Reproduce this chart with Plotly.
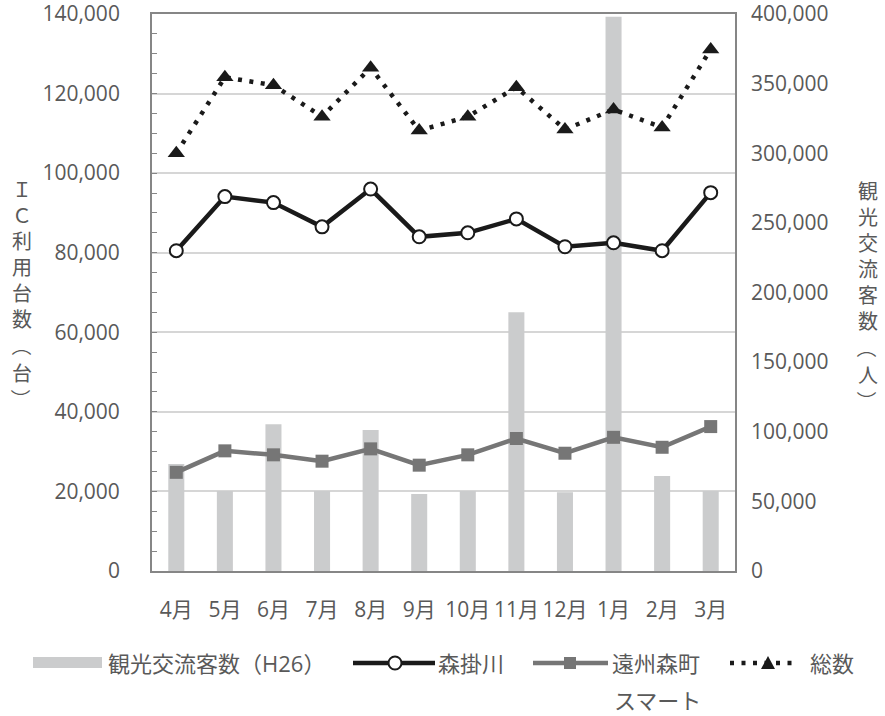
import plotly.graph_objects as go

# Monthly figures (fiscal year order, April to March)
months = ["4月", "5月", "6月", "7月", "8月", "9月", "10月", "11月", "12月", "1月", "2月", "3月"]
visitors_h26 = [76800, 57500, 105300, 57500, 101300, 55300, 57500, 185800, 56500, 398000, 68200, 57500]
kakegawa = [80500, 94100, 92600, 86500, 96000, 84000, 85000, 88500, 81500, 82500, 80500, 95100]
enshu_morimachi = [24800, 30200, 29200, 27600, 30700, 26600, 29200, 33300, 29600, 33600, 31100, 36300]
total = [105000, 124100, 122100, 114200, 126500, 110700, 114200, 121600, 111000, 116000, 111500, 131100]

left_ticks = [0, 20000, 40000, 60000, 80000, 100000, 120000, 140000]
right_ticks = [0, 50000, 100000, 150000, 200000, 250000, 300000, 350000, 400000]

# Vertical axis titles: main words stacked, unit in brackets turned for vertical writing
left_title = ["Ｉ", "Ｃ", "利", "用", "台", "数"]
left_unit = "台"
right_title = ["観", "光", "交", "流", "客", "数"]
right_unit = "人"

FONT = "Open Sans, Noto Sans CJK JP, sans-serif"
TEXT = "#595959"
AXIS = "#868686"
GRID = "#d6d6d6"
BAR = "#cbcccd"
DARK = "#1a1a1a"
MID = "#767676"

W, H = 885, 716
ML, MR, MT, MB = 152, 150, 14, 145
PW, PH = W - ML - MR, H - MT - MB


def px(x):
    return (x - ML) / PW


def py(y):
    return (H - MB - y) / PH


fig = go.Figure()

fig.add_trace(go.Bar(
    x=months, y=visitors_h26, name="観光交流客数（H26）",
    marker=dict(color=BAR, line=dict(width=0)), width=0.33, yaxis="y",
))
fig.add_trace(go.Scatter(
    x=months, y=kakegawa, name="森掛川", yaxis="y2", mode="lines+markers",
    line=dict(color=DARK, width=4.5),
    marker=dict(symbol="circle", size=13, color="white", line=dict(color=DARK, width=2)),
))
fig.add_trace(go.Scatter(
    x=months, y=enshu_morimachi, name="遠州森町スマート", yaxis="y2", mode="lines+markers",
    line=dict(color=MID, width=4.5),
    marker=dict(symbol="square", size=13, color=MID),
))
fig.add_trace(go.Scatter(
    x=months, y=total, name="総数", yaxis="y2", mode="lines+markers",
    line=dict(color=DARK, width=4.5, dash="4px,7.5px"),
    marker=dict(symbol="triangle-up", size=15, color=DARK),
))

# Legend drawn below the plot
shapes = []
annotations = []
ly = 663
lf = dict(family=FONT, size=22, color=TEXT)

shapes.append(dict(type="rect", xref="paper", yref="paper",
                   x0=px(33), x1=px(102), y0=py(668), y1=py(657),
                   fillcolor=BAR, line=dict(width=0)))
annotations.append(dict(x=px(106), y=py(ly), xref="paper", yref="paper", text="観光交流客数（H26）",
                        showarrow=False, xanchor="left", yanchor="middle", font=lf))

shapes.append(dict(type="line", xref="paper", yref="paper", x0=px(353), x1=px(435), y0=py(ly), y1=py(ly),
                   line=dict(color=DARK, width=4.5)))
shapes.append(dict(type="circle", xref="paper", yref="paper", x0=px(388.5), x1=px(401.5),
                   y0=py(ly + 6.5), y1=py(ly - 6.5), fillcolor="white", line=dict(color=DARK, width=2)))
annotations.append(dict(x=px(436), y=py(ly), xref="paper", yref="paper", text="森掛川",
                        showarrow=False, xanchor="left", yanchor="middle", font=lf))

shapes.append(dict(type="line", xref="paper", yref="paper", x0=px(533), x1=px(608), y0=py(ly), y1=py(ly),
                   line=dict(color=MID, width=4.5)))
shapes.append(dict(type="rect", xref="paper", yref="paper", x0=px(564), x1=px(576),
                   y0=py(ly + 6), y1=py(ly - 6), fillcolor=MID, line=dict(width=0)))
annotations.append(dict(x=px(610), y=py(ly), xref="paper", yref="paper", text="遠州森町",
                        showarrow=False, xanchor="left", yanchor="middle", font=lf))
annotations.append(dict(x=px(612), y=py(700), xref="paper", yref="paper", text="スマート",
                        showarrow=False, xanchor="left", yanchor="middle", font=lf))

shapes.append(dict(type="line", xref="paper", yref="paper", x0=px(730), x1=px(799), y0=py(ly), y1=py(ly),
                   line=dict(color=DARK, width=4.5, dash="4px,7.5px")))
tri = "M {:.5f},{:.5f} L {:.5f},{:.5f} L {:.5f},{:.5f} Z".format(
    px(768), py(ly - 7), px(761), py(ly + 6), px(775), py(ly + 6))
shapes.append(dict(type="path", xref="paper", yref="paper", path=tri, fillcolor=DARK, line=dict(width=0)))
annotations.append(dict(x=px(808), y=py(ly), xref="paper", yref="paper", text="総数",
                        showarrow=False, xanchor="left", yanchor="middle", font=lf))

# Vertical axis titles
tf = dict(family="Noto Sans CJK JP, sans-serif", size=20, color=TEXT)
STEP = 26.5
for col_x, y0, chars, unit in ((22, 187, left_title, left_unit), (868, 189, right_title, right_unit)):
    annotations.append(dict(x=px(col_x), y=py(y0 + STEP * (len(chars) - 1) / 2), xref="paper", yref="paper",
                            text="<br>".join(chars), showarrow=False, xanchor="center", yanchor="middle",
                            font=tf, align="center"))
    n = len(chars)
    for k, (ch, rot) in enumerate((("（", 90), (unit, 0), ("）", 90))):
        annotations.append(dict(x=px(col_x), y=py(y0 + STEP * (n + k)), xref="paper", yref="paper", text=ch,
                                showarrow=False, xanchor="center", yanchor="middle", font=tf,
                                textangle=rot))

tickfont = dict(family=FONT, size=21, color=TEXT)

fig.update_layout(
    width=W, height=H,
    margin=dict(l=ML, r=MR, t=MT, b=MB, pad=0, autoexpand=False),
    paper_bgcolor="white", plot_bgcolor="white",
    showlegend=False,
    bargap=0.67,
    xaxis=dict(
        type="category", range=[-0.5, 11.5], automargin=False,
        showgrid=False, showline=True, mirror=True,
        linecolor=AXIS, linewidth=1.8, ticks="", tickfont=tickfont,
        ticklabelstandoff=19, ticklabeloverflow="allow",
    ),
    yaxis=dict(
        side="right", range=[0, 400000], tickvals=right_ticks, tickformat=",", automargin=False,
        showgrid=False, showline=False, ticks="", zeroline=False,
        tickfont=tickfont, ticklabelstandoff=15, ticklabeloverflow="allow",
    ),
    yaxis2=dict(
        overlaying="y", side="left", range=[0, 140000], tickvals=left_ticks, tickformat=",",
        automargin=False,
        showgrid=True, gridcolor=GRID, gridwidth=1.5, zeroline=False,
        showline=True, mirror=True, linecolor=AXIS, linewidth=1.8,
        ticks="inside", ticklen=5, tickcolor=AXIS, tickwidth=1.3,
        minor=dict(dtick=5000, ticks="inside", ticklen=5, tickcolor=AXIS, tickwidth=1.3, showgrid=False),
        tickfont=tickfont, ticklabelstandoff=26, ticklabeloverflow="allow",
    ),
    shapes=shapes,
    annotations=annotations,
)

fig.write_html("out.html")
